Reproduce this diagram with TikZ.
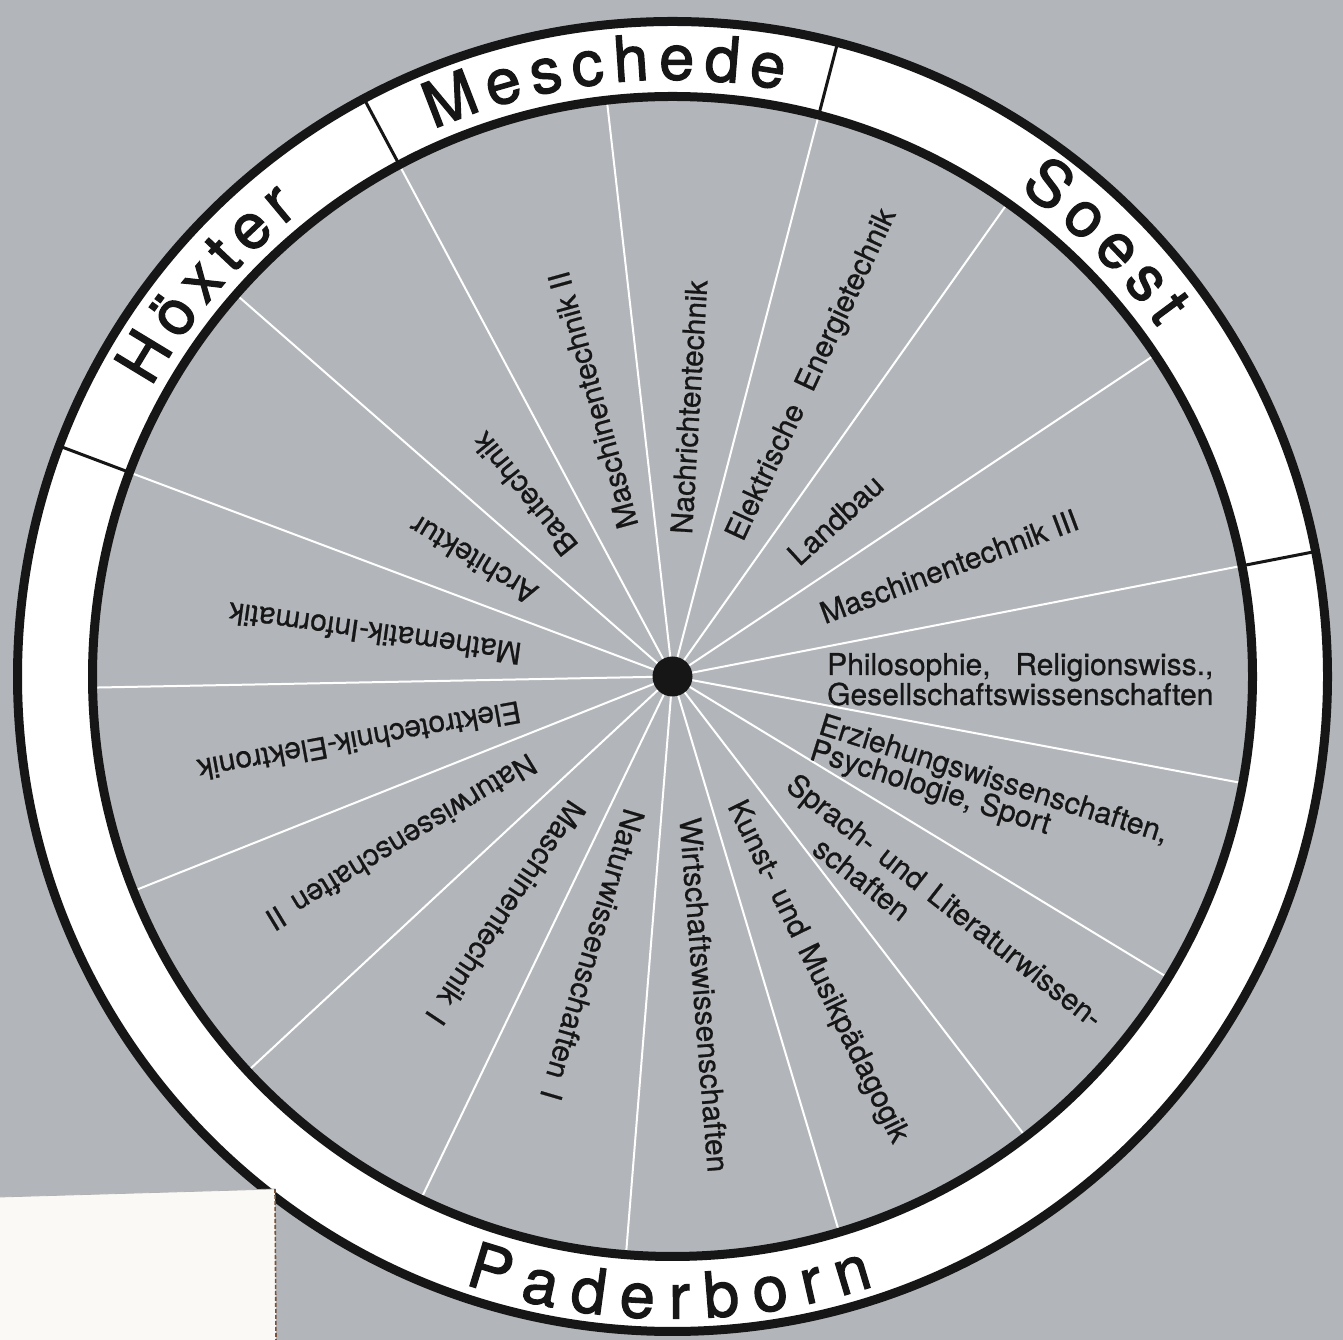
\documentclass[tikz,border=0pt]{standalone}
\usepackage{fontspec}
\setmainfont{TeX Gyre Heros}
\newfontfamily\ringfam{TeX Gyre Heros}[FakeBold=2]
\newfontfamily\labfam{TeX Gyre Heros}[FakeBold=0.8]
\usetikzlibrary{decorations.text}
\definecolor{bg}{RGB}{178,182,186}
\definecolor{ink}{RGB}{22,22,22}
\definecolor{paper}{RGB}{250,249,246}
\definecolor{edgebrown}{RGB}{120,82,58}
\newcommand\ringfont{\ringfam\fontsize{63}{63}\selectfont}
\begin{document}
\begin{tikzpicture}[x=1pt,y=1pt,
  lab/.style={font=\labfam\fontsize{30}{30}\selectfont, text=ink, inner sep=0pt, anchor=base west},
  spoke/.style={draw=white, line width=2pt},
  rim/.style={draw=ink, line width=9pt},
  divider/.style={draw=ink, line width=3pt},
  ringlabel/.style={decorate, decoration={text along path, text align={fit to path}, text color=ink}},
]
\useasboundingbox (0,0) rectangle (1343,1340);
\fill[bg] (0,0) rectangle (1343,1340);

\begin{scope}[shift={(672.5,663.5)}]
  \foreach \a in {11.0,33.7,54.7,75.4,96.5,118.1,138.8,159.4,181.1,201.7,222.9,244.3,265.4,286.7,307.5,328.7,349.4}
    \draw[spoke] (0,0) -- (\a:577);
  \fill[ink] (0,0) circle (20);
  \fill[white, even odd rule] (0,0) circle (655) (0,0) circle (580);
  \foreach \a in {11.0,75.4,118.1,159.4}
    \draw[divider] (\a:580) -- (\a:655);
  \draw[rim] (0,0) circle (655);
  \draw[rim] (0,0) circle (580);
  \path[ringlabel, decoration={text={|\ringfont|Höxter}}]
    (151:596) arc[start angle=151, end angle=128.8, radius=596];
  \path[ringlabel, decoration={text={|\ringfont|Meschede}}]
    (113.6:597) arc[start angle=113.6, end angle=79.4, radius=597];
  \path[ringlabel, decoration={text={|\ringfont|Soest}}]
    (54.6:598) arc[start angle=54.6, end angle=35.7, radius=598];
  \path[ringlabel, decoration={text={|\ringfont|Paderborn}}]
    (251.1:642) arc[start angle=251.1, end angle=288.3, radius=642];
\end{scope}

% radial labels (scope origin = start of text at cap-centre height)
\begin{scope}[shift={(571,788)},rotate=129,transform shape]
  \node[lab] (bau) at (0,-11) {Bautechnik};
\end{scope}
\begin{scope}[shift={(628,812)},rotate=105.4,transform shape]
  \node[lab] (mt2) at (0,-11) {Maschinentechnik II};
\end{scope}
\begin{scope}[shift={(681,806)},rotate=86.5,transform shape]
  \node[lab] (nt) at (0,-11) {Nachrichtentechnik};
\end{scope}
\begin{scope}[shift={(733,802)},rotate=65,transform shape]
  \node[lab] (ee) at (0,-11) {Elektrische\hspace{0.6em}Energietechnik};
\end{scope}
\begin{scope}[shift={(792,781)},rotate=42.5,transform shape]
  \node[lab] (lb) at (0,-11) {Landbau};
\end{scope}
\begin{scope}[shift={(821,726)},rotate=20.5,transform shape]
  \node[lab] (mt3) at (0,-11) {Maschinentechnik III};
\end{scope}
\begin{scope}[shift={(827,676)},rotate=0,transform shape]
  \node[lab] (phil1) at (0,-11) {\setbox0\hbox{Gesellschaftswissenschaften}\hbox to \wd0{Philosophie,\hfill Religionswiss.,}};
  \node[lab] (phil2) at (0,-41) {Gesellschaftswissenschaften};
\end{scope}
\begin{scope}[shift={(820.5,617)},rotate=-17.5,transform shape]
  \node[lab] (erz1) at (0,-11) {Erziehungswissenschaften,};
  \node[lab] (erz2) at (-1,-38) {Psychologie, Sport};
\end{scope}
\begin{scope}[shift={(791,560)},rotate=-38,transform shape]
  \node[lab] (spr1) at (0,-11) {Sprach-\hspace{0.4em}und\hspace{0.4em}Literaturwissen-};
  \node[lab] (spr2) at (60,-45) {schaften};
\end{scope}
\begin{scope}[shift={(737,538.5)},rotate=-63.9,transform shape]
  \node[lab] (kun) at (0,-11) {Kunst-\hspace{0.4em}und\hspace{0.4em}Musikpädagogik};
\end{scope}
\begin{scope}[shift={(690.3,522.4)},rotate=-85.4,transform shape]
  \node[lab] (wir) at (0,-11) {Wirtschaftswissenschaften};
\end{scope}
\begin{scope}[shift={(635,530)},rotate=253.7,transform shape]
  \node[lab] (nw1) at (0,-11) {Naturwissenschaften\hspace{0.45em}I};
\end{scope}
\begin{scope}[shift={(578.5,536)},rotate=236.3,transform shape]
  \node[lab] (mt1) at (0,-11) {Maschinentechnik\hspace{0.45em}I};
\end{scope}
\begin{scope}[shift={(533.9,578.2)},rotate=211.3,transform shape]
  \node[lab] (nw2) at (0,-11) {Naturwissenschaften\hspace{0.45em}II};
\end{scope}
\begin{scope}[shift={(520.8,628.3)},rotate=190.4,transform shape]
  \node[lab] (et) at (0,-11) {Elektrotechnik-Elektronik};
\end{scope}
\begin{scope}[shift={(521.1,685.7)},rotate=172,transform shape]
  \node[lab] (mi) at (0,-11) {Mathematik-Informatik};
\end{scope}
\begin{scope}[shift={(534.5,743)},rotate=149,transform shape]
  \node[lab] (ar) at (0,-11) {Architektur};
\end{scope}

% white card in the lower left corner
\fill[paper] (0,143) -- (275,151) -- (276,0) -- (0,0) -- cycle;
\draw[black!30, line width=0.8pt] (0,143) -- (275,151);
\draw[edgebrown, line width=1.6pt, dash pattern=on 4pt off 2pt] (275,151) -- (276,0);
\end{tikzpicture}
\end{document}
